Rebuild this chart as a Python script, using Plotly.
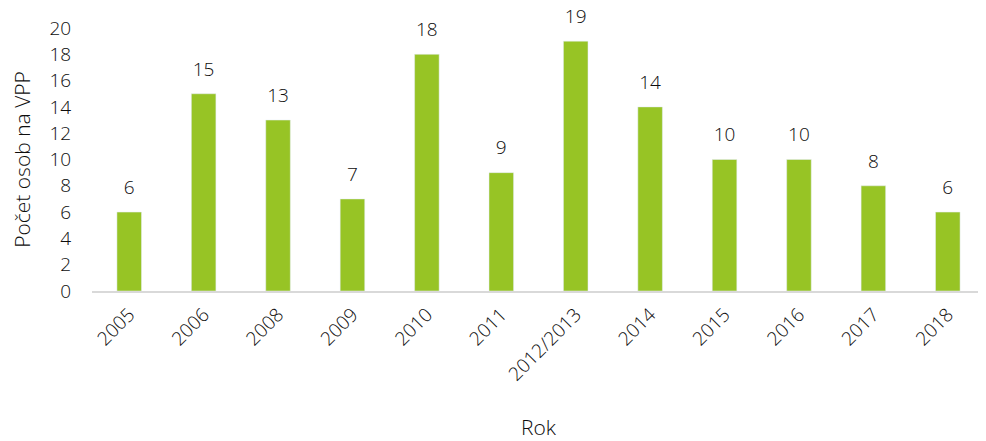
import plotly.graph_objects as go

years = ["2005", "2006", "2008", "2009", "2010", "2011", "2012/2013", "2014", "2015", "2016", "2017", "2018"]
counts = [6, 15, 13, 7, 18, 9, 19, 14, 10, 10, 8, 6]

FONT = dict(family="Open Sans", color="#0d0d0d", weight=300)

fig = go.Figure()
fig.add_trace(go.Bar(
    x=years, y=counts,
    marker_color="#97C425",
    hoverinfo="x+y",
))
fig.add_trace(go.Scatter(
    x=years, y=counts,
    mode="markers+text",
    marker=dict(size=20, color="rgba(0,0,0,0)"),
    text=[str(v) for v in counts],
    textposition="top center",
    textfont=dict(size=19, **FONT),
    cliponaxis=False,
    hoverinfo="skip",
))

fig.update_layout(
    width=978, height=433,
    margin=dict(l=84, r=1, t=20, b=150),
    paper_bgcolor="white", plot_bgcolor="white",
    font=dict(size=18, **FONT),
    bargap=0.67,
    showlegend=False,
)
fig.update_xaxes(
    type="category", automargin=False, range=[-0.5, len(years) - 0.5],
    tickangle=-45, showline=True, linecolor="#D9D9D9", linewidth=2,
    ticks="outside", ticklen=3, tickcolor="rgba(0,0,0,0)",
    title=dict(text="Rok", font=dict(size=21, **FONT), standoff=39),
    tickfont=dict(size=19, **FONT),
)
fig.update_yaxes(
    range=[0, 20], dtick=2, showgrid=False, zeroline=False, showline=False,
    automargin=False,
    ticks="outside", ticklen=16, tickcolor="rgba(0,0,0,0)",
    title=dict(text="Počet osob na VPP", font=dict(size=21, **FONT), standoff=14),
    tickfont=dict(size=19, **FONT),
)

fig.write_html("out.html")
